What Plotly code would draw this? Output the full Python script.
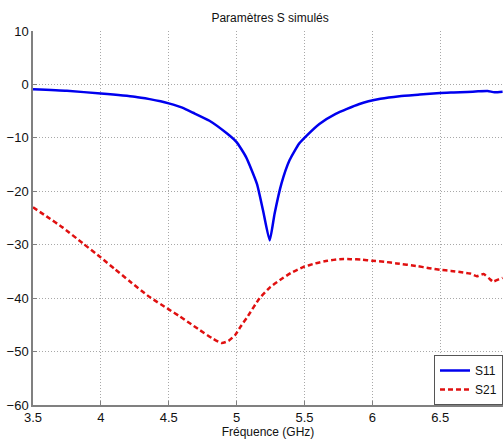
import plotly.graph_objects as go

freq_s11 = [3.5, 3.75, 4.0, 4.25, 4.36, 4.44, 4.5, 4.6, 4.68, 4.8, 4.93, 5.0, 5.07, 5.15, 5.195, 5.244,
            5.28, 5.33, 5.39, 5.46, 5.5, 5.61, 5.73, 5.9, 6.06, 6.2, 6.35, 6.5, 6.6, 6.7, 6.78,
            6.85, 6.9, 6.96]
s11 = [-0.9, -1.2, -1.7, -2.3, -2.75, -3.15, -3.55, -4.35, -5.3, -6.8, -9.2, -10.8, -13.6, -18.6, -23.6, -29.2,
       -24.2, -18.6, -14.2, -11.1, -10.0, -7.4, -5.5, -3.7, -2.7, -2.2, -1.9, -1.6, -1.5, -1.4, -1.3,
       -1.25, -1.45, -1.35]

freq_s21 = [3.5, 3.6, 3.72, 3.87, 4.0, 4.1, 4.21, 4.36, 4.5, 4.58, 4.65, 4.73, 4.82, 4.89, 4.94,
            4.99, 5.03, 5.08, 5.17, 5.25, 5.32, 5.4, 5.49, 5.58, 5.67, 5.76, 5.84, 5.92, 6.0,
            6.09, 6.18, 6.33, 6.42, 6.5, 6.58, 6.67, 6.72, 6.77, 6.82, 6.86, 6.89, 6.93, 6.96]
s21 = [-23.0, -24.7, -26.8, -29.8, -32.4, -34.5, -36.8, -39.8, -42.1, -43.4, -44.6, -46.0, -47.5, -48.4, -48.0,
       -46.9, -45.3, -43.5, -40.0, -37.9, -36.6, -35.3, -34.2, -33.5, -33.0, -32.7, -32.7, -32.8, -33.0,
       -33.2, -33.5, -34.0, -34.4, -34.7, -34.9, -35.2, -35.4, -35.9, -35.5, -36.3, -36.9, -36.5, -36.2]

x_ticks = [3.5, 4, 4.5, 5, 5.5, 6, 6.5]
y_ticks = [10, 0, -10, -20, -30, -40, -50, -60]

FONT = "Liberation Sans, Arial, sans-serif"

fig = go.Figure()
fig.add_trace(go.Scatter(x=freq_s11, y=s11, mode="lines", name="S11",
                         line=dict(color="#0000ee", width=2.5, shape="spline", smoothing=0.5)))
fig.add_trace(go.Scatter(x=freq_s21, y=s21, mode="lines", name="S21",
                         line=dict(color="#e01010", width=2.5, dash="5px,3px", shape="spline", smoothing=0.5)))

axis_common = dict(showgrid=True, gridcolor="#a8a8a8", griddash="1px,2px", gridwidth=1,
                   showline=True, linecolor="#808080", linewidth=1.5,
                   ticks="inside", ticklen=4, tickcolor="#808080",
                   tickfont=dict(family=FONT, size=13, color="#111"),
                   zeroline=False, mirror=False)

fig.update_layout(
    width=503, height=439,
    margin=dict(l=33, r=0, t=31, b=34),
    paper_bgcolor="white", plot_bgcolor="white",
    title=dict(text="Paramètres S simulés", x=0.537, xanchor="center", y=0.96, yanchor="middle",
               font=dict(family=FONT, size=12, color="#111")),
    xaxis=dict(range=[3.5, 6.963], tickvals=x_ticks, ticktext=[str(v) for v in x_ticks],
               title=dict(text="Fréquence (GHz)", standoff=0,
                          font=dict(family=FONT, size=12, color="#111")),
               **axis_common),
    yaxis=dict(range=[-60, 10], tickvals=y_ticks, **axis_common),
    legend=dict(x=1.0, xanchor="right", y=0.0, yanchor="bottom",
                bgcolor="white", bordercolor="#555", borderwidth=1,
                font=dict(family=FONT, size=12, color="#111"),
                tracegroupgap=0, itemwidth=30),
    showlegend=True,
)

fig.write_html("out.html", config={"displayModeBar": False},
               post_script="document.body.style.margin='0';document.body.style.overflow='hidden';")
